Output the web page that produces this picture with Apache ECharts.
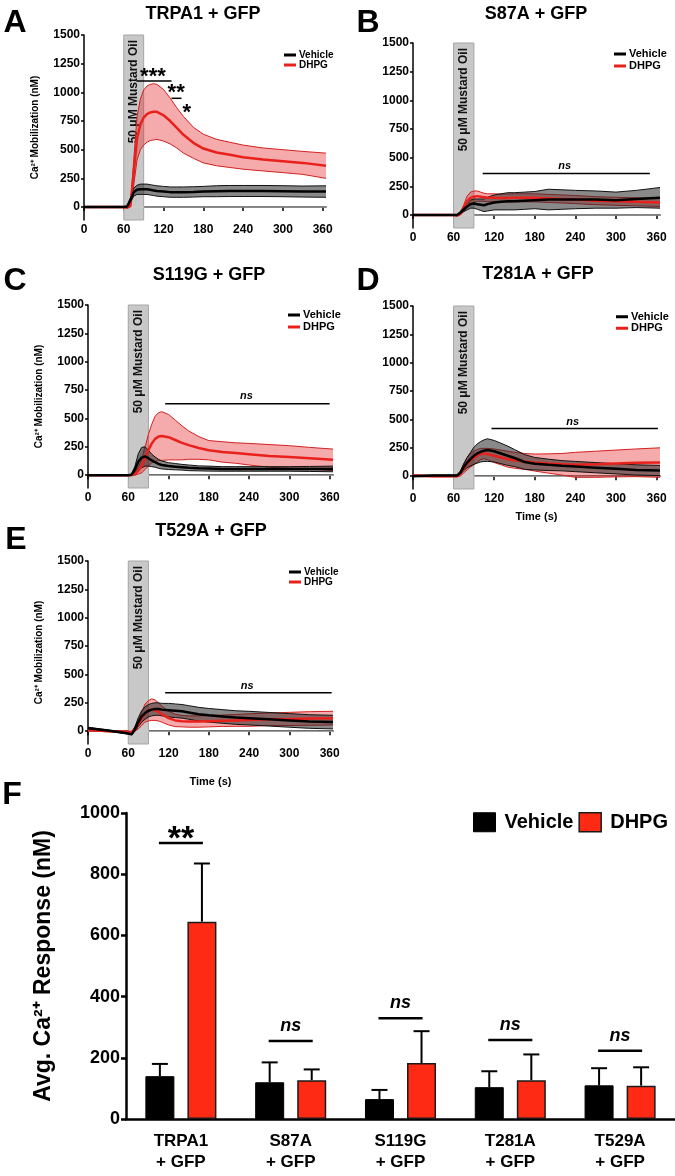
<!DOCTYPE html>
<html><head><meta charset="utf-8">
<script src="https://cdn.jsdelivr.net/npm/echarts@6/dist/echarts.min.js"></script>
<style>html,body{margin:0;padding:0;background:#fff}#c{width:675px;height:1176px}</style>
</head><body><div id="c"></div><script>
// ---------------- DATA ----------------
const TIME = [0,30,60,65,70,75,80,85,90,95,100,105,110,120,130,140,150,165,180,200,220,240,270,300,330,365];
const X_TICKS = [0,60,120,180,240,300,360];
const Y_TICKS = [0,250,500,750,1000,1250,1500];
const MUSTARD_WINDOW = [60, 90];
const MUSTARD_LABEL = '50 \u03bcM Mustard Oil';

// A – TRPA1 + GFP
const A_vehMean  = [0,0,0,5,60,130,150,155,155,155,150,145,140,135,130,130,130,132,135,138,140,140,140,138,135,135];
const A_vehErr   = [3,3,3,5,20,35,40,45,45,45,45,45,45,45,45,45,45,45,45,48,48,48,48,48,48,50];
const A_dhpgMean = [0,0,0,-5,10,300,600,720,780,810,825,830,830,800,750,690,630,560,510,475,455,435,415,400,385,360];
const A_dhpgErr  = [5,5,5,5,10,110,190,220,240,245,245,245,240,225,200,175,160,135,125,115,110,105,100,100,100,110];
const A_sigLines = [[79,132,1098],[132,147,948]];
const A_sigText  = [[104,1136,'***'],[139,991,'**'],[155,820,'*']];

// B – S87A + GFP
const B_vehMean  = [0,0,0,0,20,50,75,95,100,95,90,85,95,110,115,120,120,125,130,135,135,135,135,130,140,150];
const B_vehErr   = [2,2,2,2,10,20,30,35,40,45,50,55,60,65,70,75,75,75,75,90,85,80,75,70,75,90];
const B_dhpgMean = [0,0,0,-5,10,60,120,150,160,165,160,155,150,150,148,148,150,150,150,145,140,135,125,120,115,110];
const B_dhpgErr  = [2,2,2,3,10,30,45,50,50,45,40,35,35,35,35,35,35,35,35,35,35,35,35,35,35,35];
const B_sigLines = [[103,350,363]];
const B_sigText  = [[224,427,'ns']];

// C – S119G + GFP
const C_vehMean  = [0,0,0,5,50,120,155,165,150,130,115,100,90,80,75,70,65,60,58,55,55,55,55,55,55,55];
const C_vehErr   = [2,2,2,5,30,70,90,85,70,55,45,40,35,30,28,25,25,22,22,20,20,20,20,20,22,25];
const C_dhpgMean = [0,0,0,0,10,40,80,150,220,280,320,340,345,335,310,285,265,240,220,205,195,185,170,160,150,135];
const C_dhpgErr  = [2,2,2,3,10,30,60,100,140,170,200,210,215,200,175,150,125,100,85,90,90,95,100,100,95,95];
const C_sigLines = [[115,360,629]];
const C_sigText  = [[236,695,'ns']];

// D – T281A + GFP
const D_vehMean  = [0,5,5,5,30,80,120,150,180,200,215,225,230,220,200,180,160,125,110,100,92,85,75,65,55,50];
const D_vehErr   = [3,5,5,5,15,30,45,60,75,85,90,95,100,95,90,85,75,65,55,50,45,45,45,45,45,45];
const D_dhpgMean = [5,0,0,0,20,70,110,140,160,180,195,200,195,180,165,150,140,130,120,112,105,100,105,112,118,120];
const D_dhpgErr  = [8,5,5,5,20,40,55,60,60,55,50,45,50,60,65,70,70,70,75,85,95,110,115,118,122,130];
const D_sigLines = [[116,362,421]];
const D_sigText  = [[236,479,'ns']];

// E – T529A + GFP
const E_vehMean  = [25,5,-20,-28,20,80,130,160,180,190,195,195,190,185,180,175,165,150,140,130,120,115,105,95,85,80];
const E_vehErr   = [10,5,5,5,20,40,50,55,55,55,55,55,55,60,60,60,60,60,60,60,60,60,60,60,60,60];
const E_dhpgMean = [15,0,-5,-10,20,60,110,160,180,190,185,170,150,115,95,88,85,85,88,92,95,98,105,108,112,115];
const E_dhpgErr  = [15,5,5,5,20,40,60,80,90,95,90,80,70,60,55,50,50,50,50,50,52,55,55,58,60,60];
const E_sigLines = [[115,363,339]];
const E_sigText  = [[237,397,'ns']];

// F – average response
const barCategories  = ['TRPA1\n+ GFP','S87A\n+ GFP','S119G\n+ GFP','T281A\n+ GFP','T529A\n+ GFP'];
const barVehicle     = [140,120,65,104,110];
const barVehicleErr  = [40,65,30,52,56];
const barDhpg        = [645,127,183,127,109];
const barDhpgErr     = [190,35,104,84,60];
const barSigLevel    = [902,255,329,258,223];
const barSigLabel    = ['**','ns','ns','ns','ns'];
const F_Y_TICK_STEP  = 200;

// ---------------- STYLE / LAYOUT ----------------
const FONT = "'Liberation Sans', Arial, Helvetica, sans-serif";
const RED = '#e8211c', BAR_RED = '#ff2a14';
const Y_MIN = -113, Y_MAX = 1500, X_MAX = 365;
const BAR_W = 29, BAR_GAP = 0.45, BAR_OFF = (BAR_W + BAR_W*BAR_GAP)/2;
const plain = v => String(v);

const panels = [
  {title:'TRPA1 + GFP', letter:'A', veh:A_vehMean, vehErr:A_vehErr, dhpg:A_dhpgMean, dhpgErr:A_dhpgErr, sigLines:A_sigLines, sigText:A_sigText},
  {title:'S87A + GFP',  letter:'B', veh:B_vehMean, vehErr:B_vehErr, dhpg:B_dhpgMean, dhpgErr:B_dhpgErr, sigLines:B_sigLines, sigText:B_sigText},
  {title:'S119G + GFP', letter:'C', veh:C_vehMean, vehErr:C_vehErr, dhpg:C_dhpgMean, dhpgErr:C_dhpgErr, sigLines:C_sigLines, sigText:C_sigText},
  {title:'T281A + GFP', letter:'D', veh:D_vehMean, vehErr:D_vehErr, dhpg:D_dhpgMean, dhpgErr:D_dhpgErr, sigLines:D_sigLines, sigText:D_sigText},
  {title:'T529A + GFP', letter:'E', veh:E_vehMean, vehErr:E_vehErr, dhpg:E_dhpgMean, dhpgErr:E_dhpgErr, sigLines:E_sigLines, sigText:E_sigText}
];
const layout = [
  {grid:{left:84,top:35,width:242,height:185},  title:[203,14],  letter:[15,23],  legend:{left:284,top:50,font:10,lh:8},    yName:true},
  {grid:{left:413,top:43,width:247,height:185}, title:[536,14],  letter:[368,23], legend:{left:614,top:48,font:11,lh:12},   yName:false},
  {grid:{left:88,top:305,width:245,height:183}, title:[209,275], letter:[15,281], legend:{left:288,top:309,font:11,lh:12},  yName:true},
  {grid:{left:413,top:306,width:247,height:183},title:[538,274], letter:[368,281],legend:{left:616,top:311,font:11,lh:11.5},yName:false, xNameGap:22},
  {grid:{left:88,top:561,width:245,height:183}, title:[211,531], letter:[16,540], legend:{left:289,top:567,font:10,lh:8.5}, yName:true,  xNameGap:32}
];

const option = {
  animation:false, backgroundColor:'#fff', textStyle:{fontFamily:FONT},
  grid:[], xAxis:[], yAxis:[], series:[], legend:[], graphic:[]
};

function bandSeries(i, mean, err, fill, edge, z){
  const rows = TIME.map((t,k)=>[t, mean[k]-err[k], mean[k]+err[k]]);
  return {type:'custom', xAxisIndex:i, yAxisIndex:i, z, silent:true, data:rows, encode:{x:0,y:[1,2]},
    renderItem(params, api){
      if (params.dataIndex !== 0) return;
      const up = rows.map(r=>api.coord([r[0], r[2]]));
      const lo = rows.map(r=>api.coord([r[0], r[1]]));
      return {type:'group', children:[
        {type:'polygon', shape:{points: up.concat(lo.slice().reverse())}, style:{fill, stroke:null}},
        {type:'polyline', shape:{points:up}, style:{stroke:edge, lineWidth:1, fill:null}},
        {type:'polyline', shape:{points:lo}, style:{stroke:edge, lineWidth:1, fill:null}}
      ]};
    }};
}

panels.forEach((p,i)=>{
  const L = layout[i];
  option.grid.push(L.grid);
  const xa = {gridIndex:i, type:'value', min:0, max:X_MAX, interval:60,
    axisLine:{lineStyle:{color:'#000', width:1.5}},
    axisTick:{length:4, customValues:X_TICKS, lineStyle:{color:'#000', width:1.5}},
    axisLabel:{customValues:X_TICKS, formatter:plain, fontFamily:FONT, fontWeight:'bold', fontSize:12, color:'#000', margin:4},
    splitLine:{show:false}};
  if (L.xNameGap){ Object.assign(xa, {name:'Time (s)', nameLocation:'middle', nameGap:L.xNameGap,
    nameTextStyle:{fontFamily:FONT, fontWeight:'bold', fontSize:11, color:'#000'}}); }
  option.xAxis.push(xa);
  const ya = {gridIndex:i, type:'value', min:Y_MIN, max:Y_MAX,
    axisLine:{show:true, lineStyle:{color:'#000', width:1.5}},
    axisTick:{show:true, length:3, customValues:Y_TICKS, lineStyle:{color:'#000', width:1.5}},
    axisLabel:{customValues:Y_TICKS, formatter:plain, fontFamily:FONT, fontWeight:'bold', fontSize:12, color:'#000', margin:4},
    splitLine:{show:false}};
  if (L.yName){ Object.assign(ya, {name:'Ca\u00b2\u207a Mobilization (nM)', nameLocation:'middle', nameGap:44,
    nameTextStyle:{fontFamily:FONT, fontWeight:'bold', fontSize:10, color:'#000'}}); }
  option.yAxis.push(ya);

  // background: mustard oil window + zero line + label
  option.series.push({type:'custom', xAxisIndex:i, yAxisIndex:i, z:1, silent:true, data:[MUSTARD_WINDOW], encode:{x:[0,1]},
    renderItem(params, api){
      const x0 = api.value(0), x1 = api.value(1);
      const tl = api.coord([x0, Y_MAX]), br = api.coord([x1, Y_MIN]);
      const z0 = api.coord([0,0]), z1 = api.coord([X_MAX,0]);
      const mid = api.coord([(x0+x1)/2, Y_MAX]);
      return {type:'group', children:[
        {type:'rect', shape:{x:tl[0], y:tl[1], width:br[0]-tl[0], height:br[1]-tl[1]}, style:{fill:'#c8c8c8', stroke:'#a5a5a5', lineWidth:1}},
        {type:'line', shape:{x1:z0[0], y1:z0[1], x2:z1[0], y2:z1[1]}, style:{stroke:'#cfcfcf', lineWidth:1}},
        {type:'text', x:mid[0], y:mid[1]+5, rotation:Math.PI/2, z2:10,
          style:{text:MUSTARD_LABEL, font:'bold 12px '+FONT, fill:'#111', align:'right', verticalAlign:'middle'}}
      ]};
    }});
  option.series.push(bandSeries(i, p.dhpg, p.dhpgErr, 'rgba(228,35,35,0.38)', '#d42020', 2));
  option.series.push(bandSeries(i, p.veh, p.vehErr, 'rgba(40,40,40,0.55)', '#111', 3));
  option.series.push({type:'line', name:'DHPG', xAxisIndex:i, yAxisIndex:i, z:4, silent:true, symbol:'none',
    data:TIME.map((t,k)=>[t,p.dhpg[k]]), lineStyle:{color:RED, width:2.5}, itemStyle:{color:RED}});
  option.series.push({type:'line', name:'Vehicle', xAxisIndex:i, yAxisIndex:i, z:5, silent:true, symbol:'none',
    data:TIME.map((t,k)=>[t,p.veh[k]]), lineStyle:{color:'#000', width:2.5}, itemStyle:{color:'#000'}});
  // significance lines
  option.series.push({type:'custom', xAxisIndex:i, yAxisIndex:i, z:6, silent:true, data:p.sigLines, encode:{x:[0,1],y:2},
    renderItem(params, api){
      const a = api.coord([api.value(0), api.value(2)]), b = api.coord([api.value(1), api.value(2)]);
      return {type:'line', shape:{x1:a[0],y1:a[1],x2:b[0],y2:b[1]}, style:{stroke:'#000', lineWidth:1.5}};
    }});
  const texts = p.sigText;
  option.series.push({type:'custom', xAxisIndex:i, yAxisIndex:i, z:6, silent:true, data:texts.map(r=>[r[0],r[1]]), encode:{x:0,y:1},
    renderItem(params, api){
      const c = api.coord([api.value(0), api.value(1)]);
      const lab = texts[params.dataIndex][2];
      const star = lab.indexOf('*')>=0;
      return {type:'text', x:c[0], y:c[1], style:{text:lab, fill:'#000', align:'center', verticalAlign:'middle',
        font:(star ? 'bold 22px ' : 'italic bold 11px ')+FONT}};
    }});
  option.legend.push({left:L.legend.left, top:L.legend.top, orient:'vertical', selectedMode:false,
    itemWidth:12, itemHeight:3, itemGap:0, padding:0,
    textStyle:{fontFamily:FONT, fontWeight:'bold', fontSize:L.legend.font, lineHeight:L.legend.lh, color:'#000', padding:[0,0,0,-2]},
    data:[{name:'Vehicle', icon:'rect', itemStyle:{color:'#000', borderWidth:0}},
          {name:'DHPG', icon:'rect', itemStyle:{color:RED, borderWidth:0}}]});
  option.graphic.push({type:'text', x:L.title[0], y:L.title[1], style:{text:p.title, font:'bold 18px '+FONT, fill:'#000', align:'center', verticalAlign:'middle'}});
  option.graphic.push({type:'text', x:L.letter[0], y:L.letter[1], style:{text:p.letter, font:'bold 32px '+FONT, fill:'#000', align:'center', verticalAlign:'middle'}});
});

// ---------- Panel F ----------
option.grid.push({left:126, top:813, width:559, height:306});
option.xAxis.push({gridIndex:5, type:'category', data:barCategories,
  axisLine:{lineStyle:{color:'#000', width:2.5}}, axisTick:{show:false},
  axisLabel:{fontFamily:FONT, fontWeight:'bold', fontSize:17, lineHeight:21, color:'#000', margin:12}});
option.yAxis.push({gridIndex:5, type:'value', min:0, max:1000, interval:F_Y_TICK_STEP,
  axisLine:{show:true, lineStyle:{color:'#000', width:2.5}},
  axisTick:{show:true, length:5, lineStyle:{color:'#000', width:2.5}},
  axisLabel:{formatter:plain, fontFamily:FONT, fontWeight:'bold', fontSize:18, color:'#000', margin:6},
  splitLine:{show:false},
  name:'Avg. Ca\u00b2\u207a Response (nM)', nameLocation:'middle', nameGap:71,
  nameTextStyle:{fontFamily:FONT, fontWeight:'bold', fontSize:23, color:'#000'}});
option.series.push({type:'bar', name:'Vehicle', xAxisIndex:5, yAxisIndex:5, data:barVehicle, barWidth:BAR_W, barGap:(BAR_GAP*100)+'%',
  itemStyle:{color:'#000', borderColor:'#000', borderWidth:1}, z:2, silent:true});
option.series.push({type:'bar', name:'DHPG', xAxisIndex:5, yAxisIndex:5, data:barDhpg, barWidth:BAR_W,
  itemStyle:{color:BAR_RED, borderColor:'#1a1a1a', borderWidth:1.5}, z:2, silent:true});
const errRows = barVehicle.map((v,k)=>[k, v, barVehicleErr[k], -1]).concat(barDhpg.map((v,k)=>[k, v, barDhpgErr[k], 1]));
option.series.push({type:'custom', xAxisIndex:5, yAxisIndex:5, z:3, silent:true, data:errRows, encode:{x:0,y:1},
  renderItem(params, api){
    const c0 = api.coord([api.value(0), api.value(1)]);
    const c1 = api.coord([api.value(0), api.value(1)+api.value(2)]);
    const x = c0[0] + api.value(3)*BAR_OFF;
    return {type:'group', children:[
      {type:'line', shape:{x1:x, y1:c0[1], x2:x, y2:c1[1]}, style:{stroke:'#000', lineWidth:2}},
      {type:'line', shape:{x1:x-8, y1:c1[1], x2:x+8, y2:c1[1]}, style:{stroke:'#000', lineWidth:2}}
    ]};
  }});
option.series.push({type:'custom', xAxisIndex:5, yAxisIndex:5, z:3, silent:true, data:barSigLevel.map((v,k)=>[k,v]), encode:{x:0,y:1},
  renderItem(params, api){
    const c = api.coord([api.value(0), api.value(1)]);
    const lab = barSigLabel[params.dataIndex];
    const star = lab.indexOf('*')>=0;
    return {type:'group', children:[
      {type:'line', shape:{x1:c[0]-BAR_OFF-1, y1:c[1], x2:c[0]+BAR_OFF+1, y2:c[1]}, style:{stroke:'#000', lineWidth:2.5}},
      {type:'text', x:c[0], y:c[1] + (star ? -3 : -15), style:{text:lab, fill:'#000', align:'center', verticalAlign:'middle',
        font:(star ? 'bold 34px ' : 'italic bold 18px ')+FONT}}
    ]};
  }});
option.legend.push({left:473, top:812, orient:'horizontal', selectedMode:false, itemWidth:22, itemHeight:19, itemGap:5, padding:0,
  textStyle:{fontFamily:FONT, fontWeight:'bold', fontSize:20, color:'#000', padding:[0,0,0,4]},
  data:[{name:'Vehicle', icon:'rect', itemStyle:{color:'#000', borderColor:'#000', borderWidth:1}},
        {name:'DHPG', icon:'rect', itemStyle:{color:BAR_RED, borderColor:'#1a1a1a', borderWidth:1.5}}]});
option.graphic.push({type:'text', x:12, y:795, style:{text:'F', font:'bold 32px '+FONT, fill:'#000', align:'center', verticalAlign:'middle'}});

const chart = echarts.init(document.getElementById('c'), null, {renderer:'canvas'});
chart.setOption(option);
</script></body></html>
